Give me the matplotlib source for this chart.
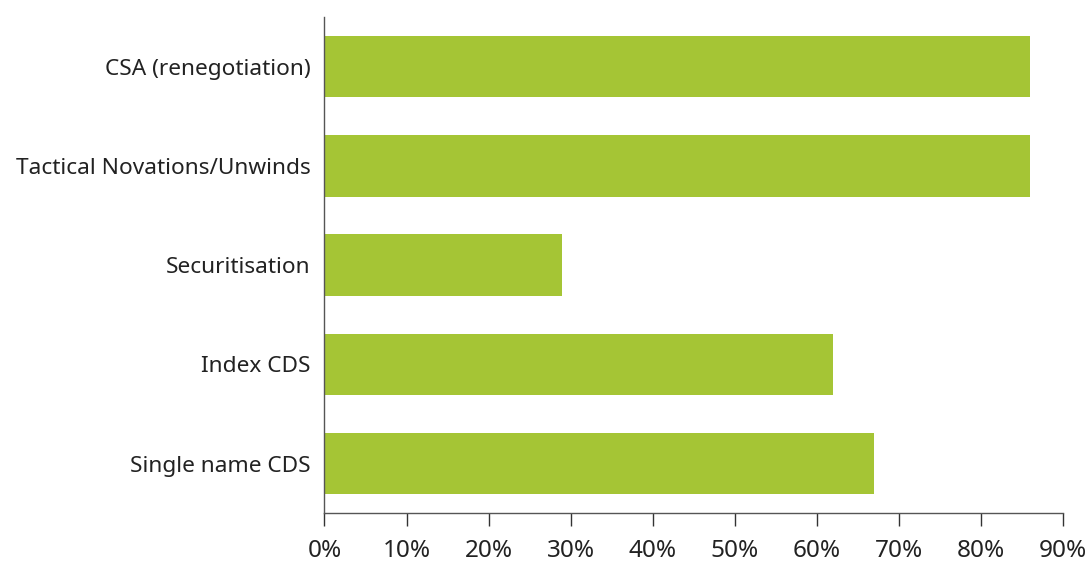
import matplotlib
matplotlib.use("Agg")
import matplotlib.pyplot as plt
from matplotlib.ticker import FuncFormatter

# Share of respondents by activity (percent)
categories = ["Single name CDS", "Index CDS", "Securitisation",
              "Tactical Novations/Unwinds", "CSA (renegotiation)"]
values = [67, 62, 29, 86, 86]
x_ticks = [0, 10, 20, 30, 40, 50, 60, 70, 80, 90]

plt.rcParams["font.family"] = ["Noto Sans", "DejaVu Sans"]

fig = plt.figure(figsize=(10.9, 5.65), dpi=100)
ax = fig.add_axes([0.2977, 0.0915, 0.9750 - 0.2977, 0.970 - 0.0915])

ax.barh(range(len(categories)), values, height=0.62, color="#A5C535")

ax.set_xlim(0, 90)
ax.set_ylim(-0.5, len(categories) - 0.5)
ax.set_xticks(x_ticks)
ax.xaxis.set_major_formatter(FuncFormatter(lambda v, _: f"{v:.0f}%"))
ax.set_yticks(range(len(categories)))
ax.set_yticklabels(categories)

for side in ("top", "right"):
    ax.spines[side].set_visible(False)
for side in ("left", "bottom"):
    ax.spines[side].set_color("#555555")
    ax.spines[side].set_linewidth(1.0)

ax.tick_params(axis="x", length=9.5, width=1.0, color="#333333", pad=9,
               labelsize=17.5, labelcolor="#222222")
ax.tick_params(axis="y", length=0, pad=10, labelsize=16.3, labelcolor="#222222")

fig.savefig("out.png", dpi=100)
